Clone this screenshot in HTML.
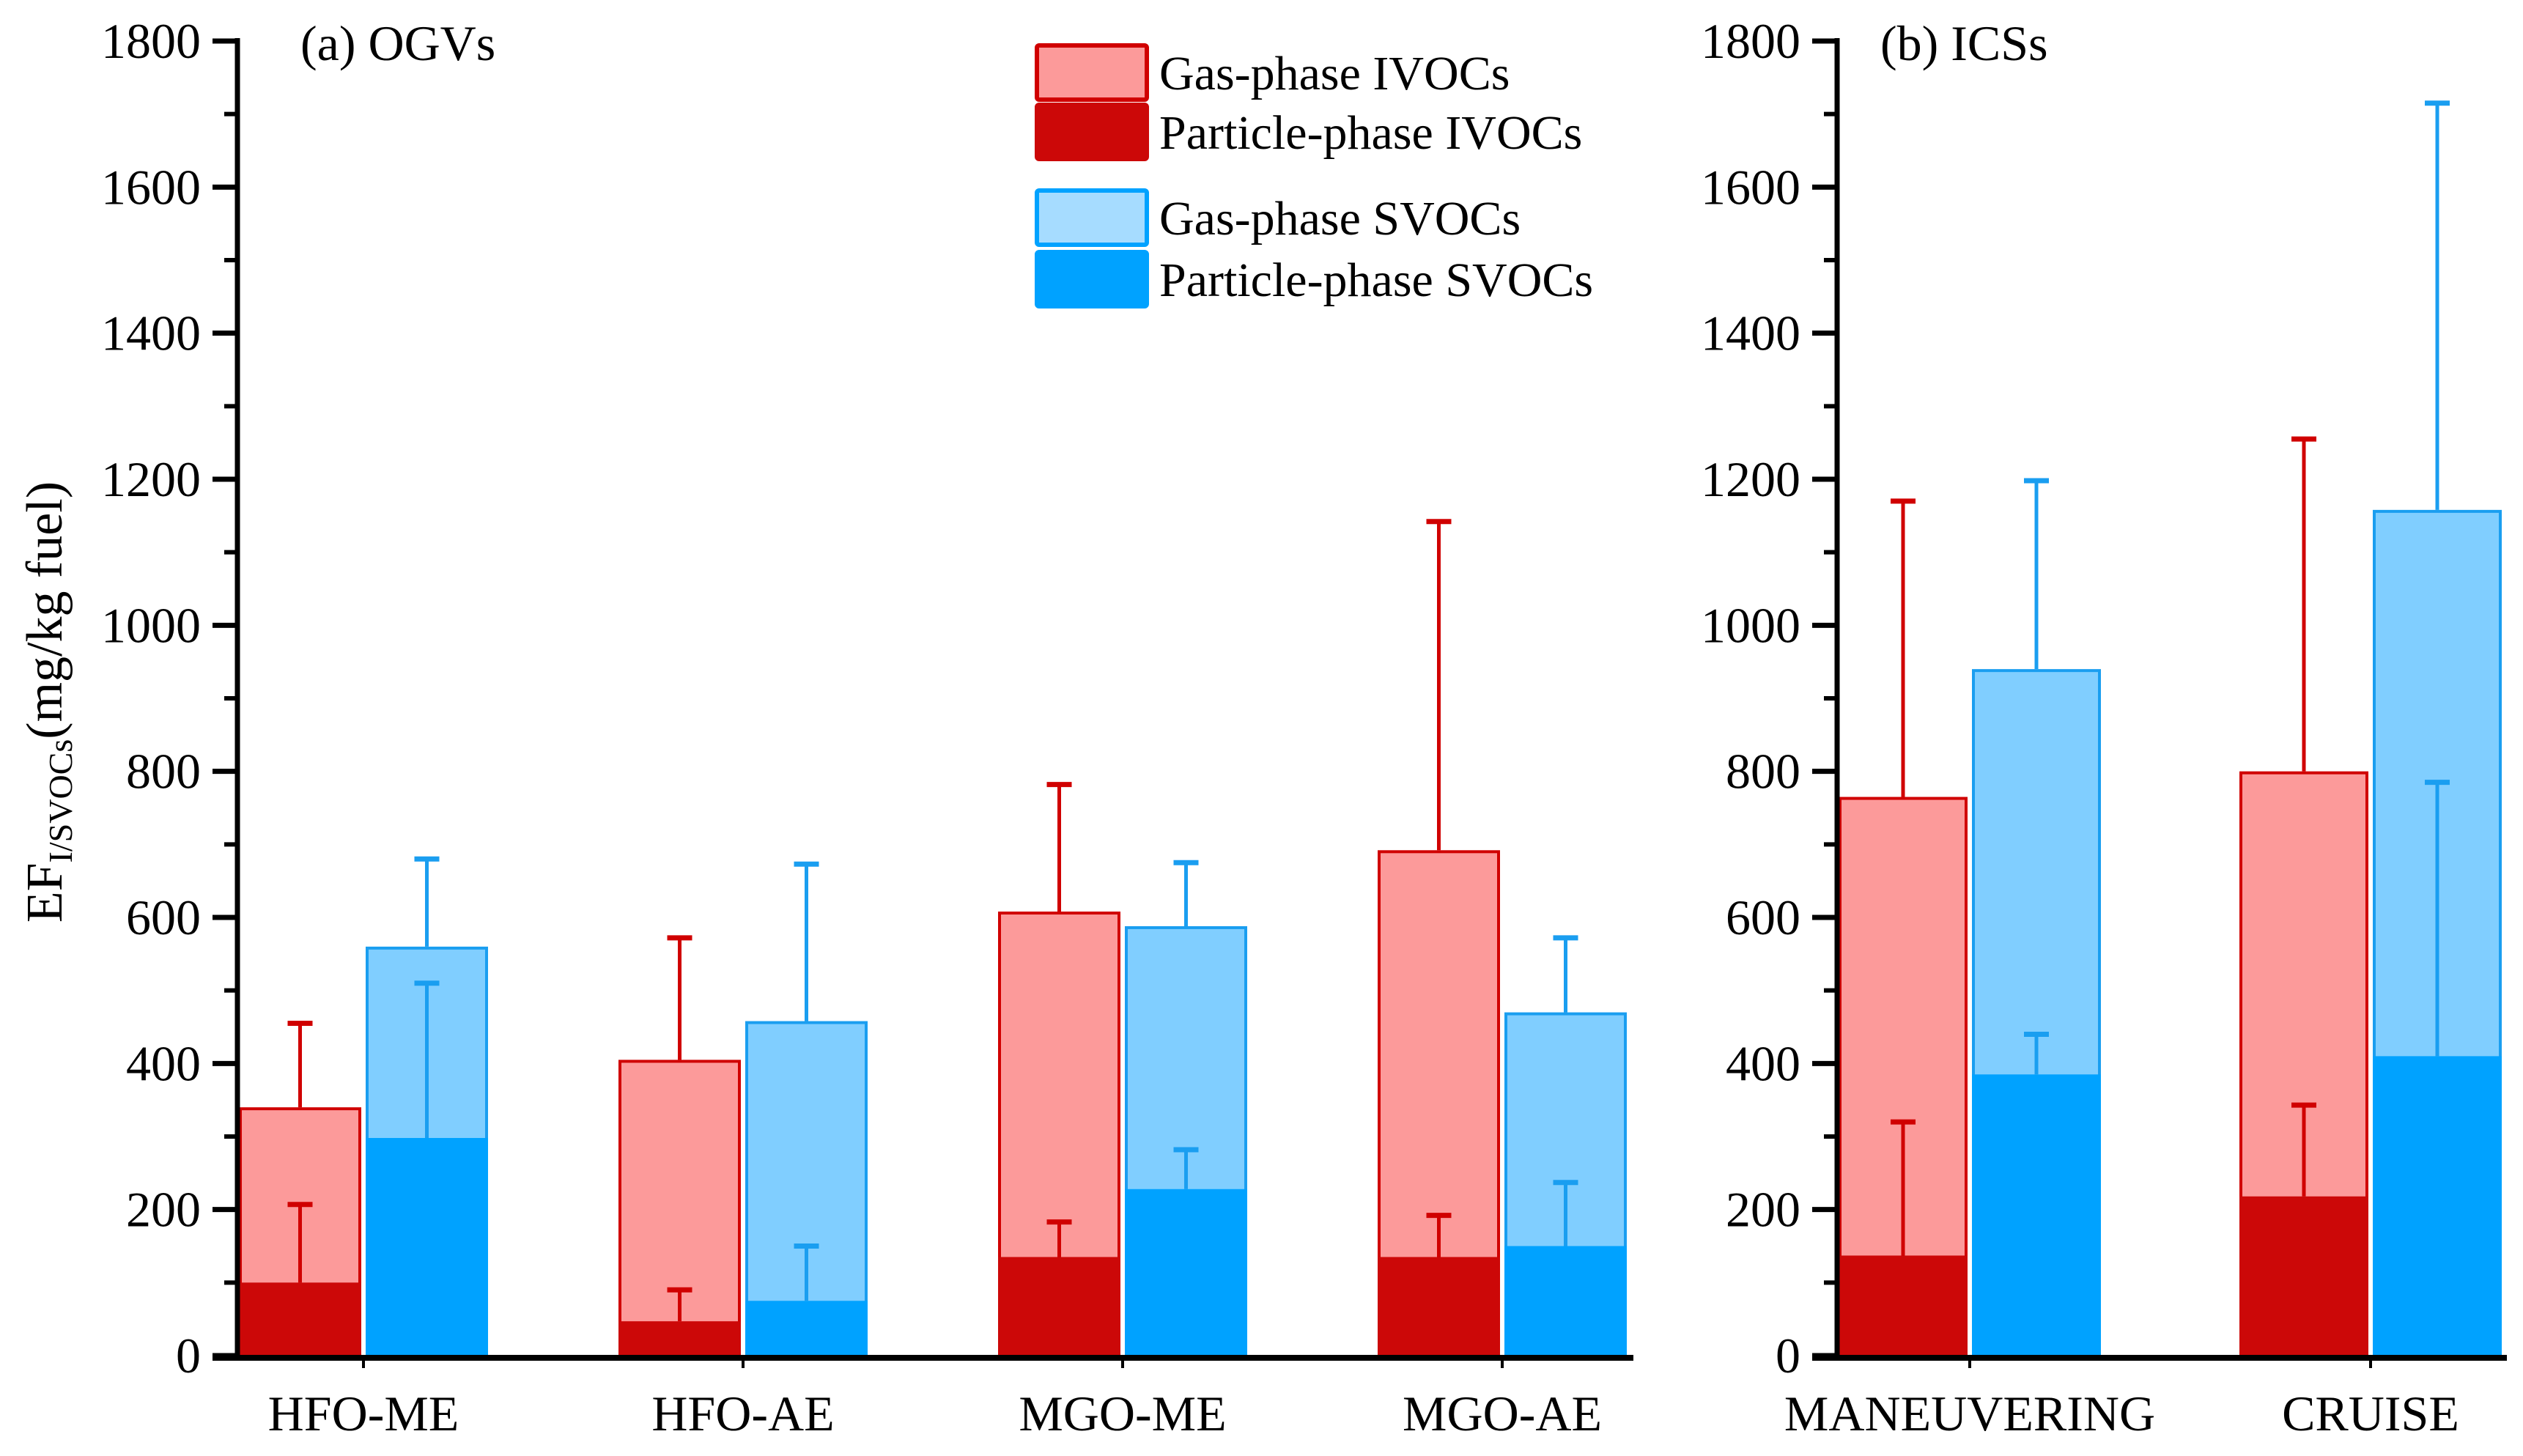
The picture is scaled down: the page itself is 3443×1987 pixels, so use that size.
<!DOCTYPE html>
<html><head><meta charset="utf-8"><style>
html,body{margin:0;padding:0;background:#fff;}
svg{display:block;font-family:"Liberation Serif","Times New Roman",serif;}
</style></head><body>
<svg id="chart" width="3443" height="1987" viewBox="0 0 3443 1987" font-family="Liberation Serif, serif"></svg>
<script>
const catsA = ["HFO-ME","HFO-AE","MGO-ME","MGO-AE"];
const catsB = ["MANEUVERING","CRUISE"];
const ivocPartA = [100,47,135,135];
const ivocTotalA = [340,405,608,692];
const ivocTotErrA = [455,572,782,1142];
const ivocPartErrA = [207,90,183,192];
const svocPartA = [298,75,228,150];
const svocTotalA = [560,458,588,470];
const svocTotErrA = [680,673,675,572];
const svocPartErrA = [510,150,282,237];
const ivocPartB = [137,218];
const ivocTotalB = [765,800];
const ivocTotErrB = [1170,1255];
const ivocPartErrB = [320,343];
const svocPartB = [385,410];
const svocTotalB = [940,1158];
const svocTotErrB = [1198,1715];
const svocPartErrB = [440,785];
const yTicks = [0,200,400,600,800,1000,1200,1400,1600,1800];

const NS="http://www.w3.org/2000/svg";
const svg=document.getElementById('chart');
function mk(tag,attrs,parent){const e=document.createElementNS(NS,tag);for(const k in attrs)e.setAttribute(k,attrs[k]);(parent||svg).appendChild(e);return e;}
const Y0=1850, YS=(1850-56)/1800;
function y(v){return Y0-v*YS;}

function panel(key,axX,axRight,x0,step,bw,cats,ip,it,ite,ipe,sp,st,ste,spe,title,titleX){
  const g=mk('g',{});
  
  
  cats.forEach((c,i)=>{
    const cx=x0+i*step;
    const rx=cx-bw-3, bx=cx+3;
    let r=mk('rect',{x:rx+2,y:y(it[i])+2,width:bw-4,height:y(0)-y(it[i])-2,fill:'#fc9a9a',stroke:'#d00000','stroke-width':4},g);
    
    
    r=mk('rect',{x:rx,y:y(ip[i]),width:bw,height:y(0)-y(ip[i]),fill:'#cc0808'},g);
    
    
    r=mk('rect',{x:bx+2,y:y(st[i])+2,width:bw-4,height:y(0)-y(st[i])-2,fill:'#80ceff',stroke:'#1a9ef0','stroke-width':4},g);
    
    
    r=mk('rect',{x:bx,y:y(sp[i]),width:bw,height:y(0)-y(sp[i]),fill:'#00a2ff'},g);
    
    
    const errs=[[rx+bw/2,it[i],ite[i],'#d00000'],[rx+bw/2,ip[i],ipe[i],'#d00000'],[bx+bw/2,st[i],ste[i],'#1a9ef0'],[bx+bw/2,sp[i],spe[i],'#1a9ef0']];
    errs.forEach((e,j)=>{
      const eg=mk('g',{},g);
      
      
      mk('line',{x1:e[0],x2:e[0],y1:y(e[1]),y2:y(e[2]),stroke:e[3],'stroke-width':5},eg);
      mk('line',{x1:e[0]-17,x2:e[0]+17,y1:y(e[2]),y2:y(e[2]),stroke:e[3],'stroke-width':7},eg);
    });
    const tk=mk('line',{x1:cx,x2:cx,y1:1853,y2:1867,stroke:'#000','stroke-width':4},g);
    
    
    const t=mk('text',{x:cx,y:1952,'text-anchor':'middle','font-size':68,'font-family':'Liberation Serif, serif'},g);
    t.textContent=c;
    
    
  });
  const ya=mk('line',{x1:axX,x2:axX,y1:y(1800)-4,y2:Y0+4,stroke:'#000','stroke-width':7},g);
  
  
  const xa=mk('line',{x1:axX-34,x2:axRight,y1:Y0+3,y2:Y0+3,stroke:'#000','stroke-width':8},g);
  
  
  for(let v=100;v<1800;v+=200){mk('line',{x1:axX-18,x2:axX,y1:y(v),y2:y(v),stroke:'#000','stroke-width':6},g);}
  yTicks.forEach(v=>{
    mk('line',{x1:axX-34,x2:axX,y1:y(v),y2:y(v),stroke:'#000','stroke-width':7},g);
    const t=mk('text',{x:axX-50,y:y(v)+23,'text-anchor':'end','font-size':68,'font-family':'Liberation Serif, serif'},g);
    t.textContent=v;
    
    
  });
  const tt=mk('text',{x:titleX,y:82,'font-size':68,'font-family':'Liberation Serif, serif'},g);
  tt.textContent=title;
  
  
}
panel('a',324,2229,496,518,167,catsA,ivocPartA,ivocTotalA,ivocTotErrA,ivocPartErrA,svocPartA,svocTotalA,svocTotErrA,svocPartErrA,'(a) OGVs',410);
panel('b',2507,3421,2688,547,176,catsB,ivocPartB,ivocTotalB,ivocTotErrB,ivocPartErrB,svocPartB,svocTotalB,svocTotErrB,svocPartErrB,'(b) ICSs',2566);

const lg=mk('g',{});


const legendLabels=["Gas-phase IVOCs","Particle-phase IVOCs","Gas-phase SVOCs","Particle-phase SVOCs"];
const legendFill=["#fc9a9a","#cc0808","#a6dcff","#00a2ff"];
const legendStroke=["#d00000","#cc0808","#00a2ff","#00a2ff"];
const legendTop=[62,143,260,344];
legendLabels.forEach((lab,i)=>{
  const r=mk('rect',{x:1415,y:legendTop[i],width:150,height:74,rx:3,fill:legendFill[i],stroke:legendStroke[i],'stroke-width':6},lg);
  
  
  const t=mk('text',{x:1582,y:legendTop[i]+60,'font-size':66,'font-family':'Liberation Serif, serif'},lg);
  t.textContent=lab;
  
  
});
const yt=mk('text',{transform:'translate(84,958) rotate(-90)','text-anchor':'middle','font-size':70,'font-family':'Liberation Serif, serif'});
yt.innerHTML='EF<tspan font-size="46" dy="14">I/SVOCs</tspan><tspan dy="-14">(mg/kg fuel)</tspan>';


</script>
</body></html>
